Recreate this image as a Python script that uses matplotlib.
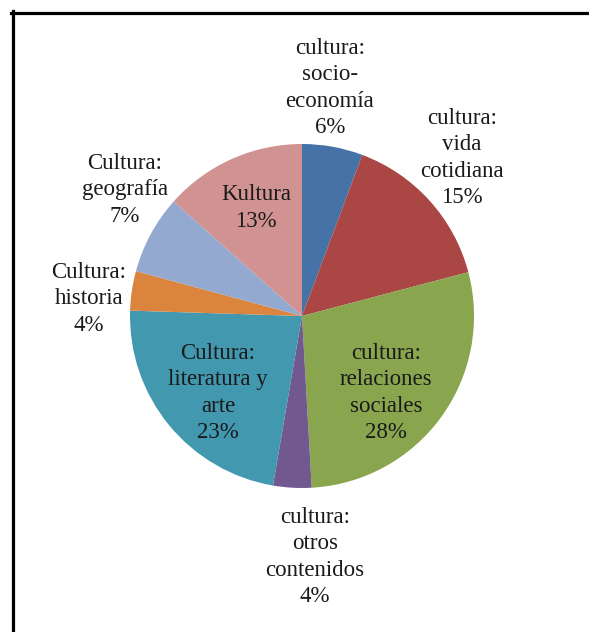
import matplotlib.pyplot as plt
from matplotlib.lines import Line2D

# share of each culture topic (%), clockwise from 12 o'clock
labels = ["cultura:\nsocio-\neconomía", "cultura:\nvida\ncotidiana",
          "cultura:\nrelaciones\nsociales", "cultura:\notros\ncontenidos",
          "Cultura:\nliteratura y\narte", "Cultura:\nhistoria",
          "Cultura:\ngeografía", "Kultura"]
values = [5.7, 15.2, 28.2, 3.6, 22.8, 3.7, 7.4, 13.4]
colors = ["#4572A7", "#AA4643", "#89A54E", "#71588F",
          "#4198AF", "#DB843D", "#93A9CF", "#D19392"]

# label centres in pixels (x from left, y from top)
label_pos = [(330, 88), (462, 158), (386, 393), (315, 557),
             (218, 393), (89, 299), (125, 190), (256, 208)]

W, H = 589, 632
fig = plt.figure(figsize=(W / 100, H / 100), dpi=100)
ax = fig.add_axes([0, 0, 1, 1])

ax.pie(values, colors=colors, startangle=90, counterclock=False,
       center=(302, H - 316), radius=172, frame=True,
       wedgeprops=dict(edgecolor="none"))

for txt, val, (px, py) in zip(labels, values, label_pos):
    ax.text(px, H - py, txt + "\n" + f"{val:.0f}%", ha="center", va="center",
            fontsize=16.5, family="Liberation Serif", color="#1a1a1a",
            linespacing=1.33)

ax.set_xlim(0, W)
ax.set_ylim(0, H)
ax.set_aspect("equal")
ax.axis("off")

# frame (only top and left edges show in the crop)
fig.add_artist(Line2D([11 / W, 1], [1 - 12.5 / H] * 2, color="black", lw=2.3,
                      transform=fig.transFigure))
fig.add_artist(Line2D([12.5 / W] * 2, [0, 1 - 11 / H], color="black", lw=2.3,
                      transform=fig.transFigure))

fig.savefig("out.png", dpi=100)
